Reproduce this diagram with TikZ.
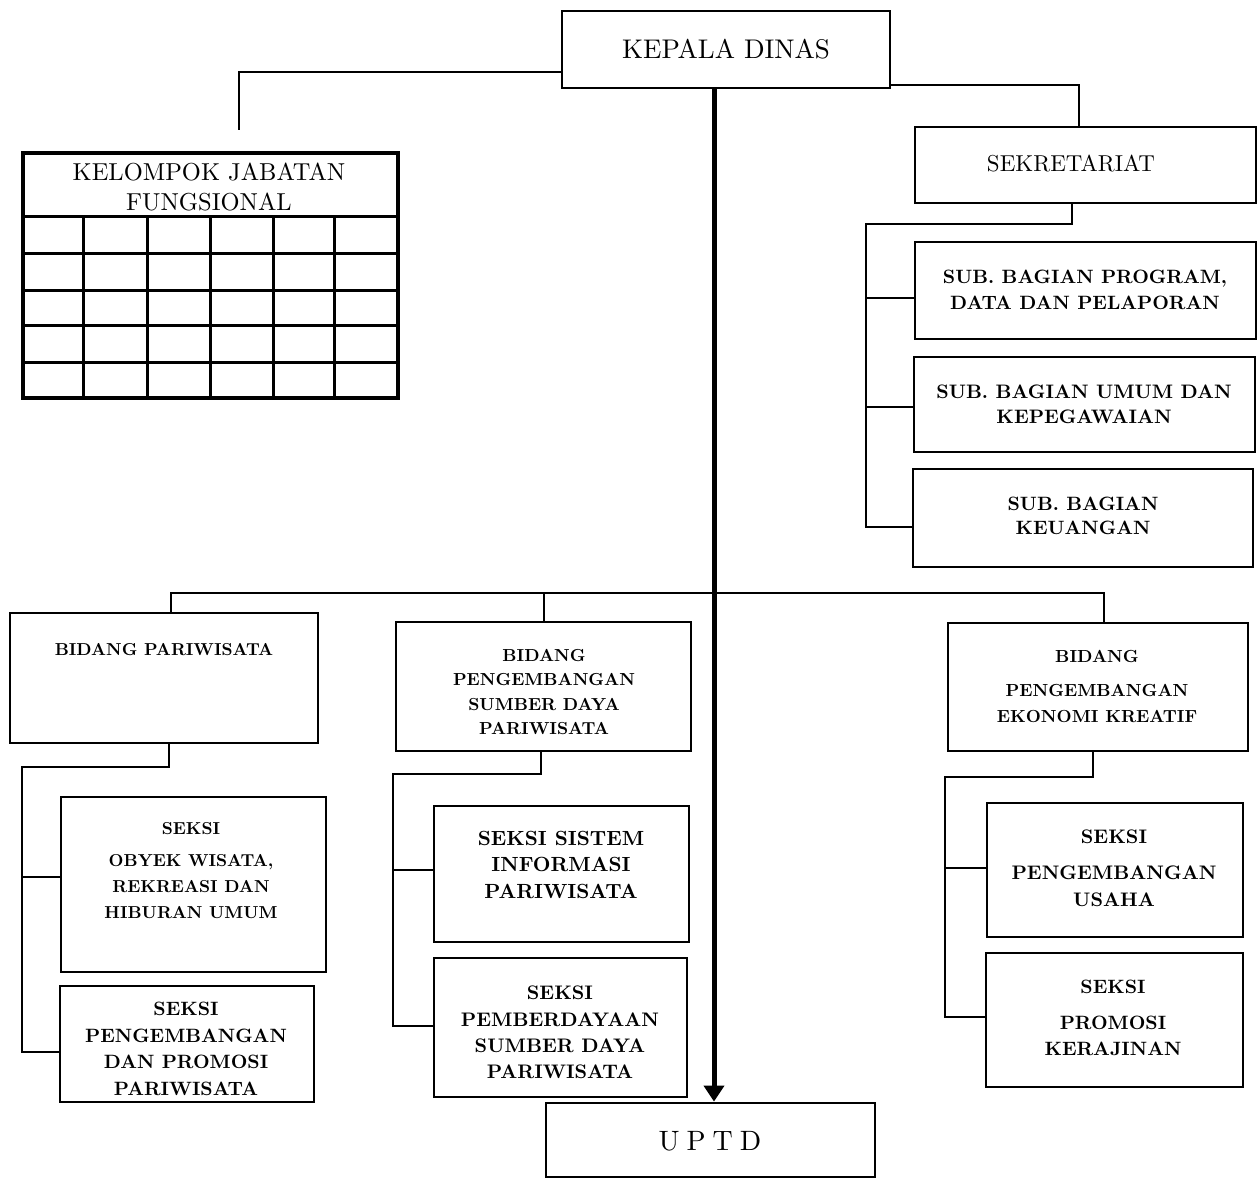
\documentclass[tikz,border=0pt]{standalone}
\usepackage{fontspec}
\setmainfont{lmroman10-regular}[Extension=.otf, BoldFont=lmroman10-bold]
\usetikzlibrary{arrows.meta,fit}
\begin{document}
\begin{tikzpicture}[x=1pt,y=-1pt,
  box/.style={draw, line width=2.9pt, inner sep=0pt},
  conn/.style={line width=2pt},
  bus/.style={line width=2.6pt},
  gridline/.style={line width=3pt},
  spine/.style={line width=5pt, -{Triangle[width=20pt,length=16pt]}},
  txt/.style={inner sep=0pt, align=center},
  reg/.style={txt, font=\fontsize{#1}{30}\selectfont},
  bld/.style n args={2}{txt, font=\fontsize{#1}{#2}\selectfont\bfseries}
]
\fill[white] (0,0) rectangle (1259,1179);
\useasboundingbox (0,0) rectangle (1259,1179);

% ---------- boxes ----------
\node[box, fit={(562,11) (890,88)}] (kd) {};
\node[box, line width=3.2pt, fit={(23,153) (398,398)}] (kfj) {};
\node[box, fit={(915,127) (1256,203)}] (sek) {};
\node[box, fit={(915,242) (1256,339)}] (sb1) {};
\node[box, fit={(914,357) (1255,452)}] (sb2) {};
\node[box, fit={(913,469) (1253,567)}] (sb3) {};
\node[box, fit={(10,613) (318,743)}] (bp) {};
\node[box, fit={(396,622) (691,751)}] (psdp) {};
\node[box, fit={(948,623) (1248,751)}] (pek) {};
\node[box, fit={(61,797) (326,972)}] (s1) {};
\node[box, fit={(60,986) (314,1102)}] (s2) {};
\node[box, fit={(434,806) (689,942)}] (s3) {};
\node[box, fit={(434,958) (687,1097)}] (s4) {};
\node[box, fit={(987,803) (1243,937)}] (s5) {};
\node[box, fit={(986,953) (1243,1087)}] (s6) {};
\node[box, fit={(546,1103) (875,1177)}] (uptd) {};

% ---------- table grid of Kelompok Jabatan Fungsional ----------
\foreach \yy in {216,253,290,325,362} \draw[gridline] (23,\yy) -- (398,\yy);
\foreach \xx in {83,147,210,273,334} \draw[gridline] (\xx,216) -- (\xx,398);

% ---------- texts ----------
\node[reg=27] (kdt) at (726,49) {KEPALA DINAS};
\node[reg=23] (sekt) at (1071,164) {SEKRETARIAT};
\node[txt, font=\fontsize{24.5}{30}\selectfont] (kfjt) at (209,187) {KELOMPOK JABATAN\\FUNGSIONAL};
\node[bld={19.3}{26}] (sb1t) at (1085,290) {SUB. BAGIAN PROGRAM,\\DATA DAN PELAPORAN};
\node[bld={19.5}{25}] (sb2t) at (1084,404) {SUB. BAGIAN UMUM DAN\\KEPEGAWAIAN};
\node[bld={19.3}{24}] (sb3t) at (1083,516) {SUB. BAGIAN\\KEUANGAN};
\node[bld={17.3}{20}] (bpt) at (164,650) {BIDANG PARIWISATA};
\node[bld={17.4}{24.3}] (psdpt) at (544,692) {BIDANG\\PENGEMBANGAN\\SUMBER DAYA\\PARIWISATA};
\node[bld={17.5}{26}] (pekt) at (1097,686) {BIDANG\\[8pt]PENGEMBANGAN\\EKONOMI KREATIF};
\node[bld={17.3}{26}] (s1t) at (191,871) {SEKSI\\[6pt]OBYEK WISATA,\\REKREASI DAN\\HIBURAN UMUM};
\node[bld={19.3}{26.7}] (s2t) at (186,1049) {SEKSI\\PENGEMBANGAN\\DAN PROMOSI\\PARIWISATA};
\node[bld={20.5}{26.5}] (s3t) at (561,864.5) {SEKSI SISTEM\\INFORMASI\\PARIWISATA};
\node[bld={19.6}{26.3}] (s4t) at (560,1032.5) {SEKSI\\PEMBERDAYAAN\\SUMBER DAYA\\PARIWISATA};
\node[bld={19.6}{27}] (s5t) at (1114,868.5) {SEKSI\\[9pt]PENGEMBANGAN\\USAHA};
\node[bld={19.3}{26}] (s6t) at (1113,1018) {SEKSI\\[10pt]PROMOSI\\KERAJINAN};
\node[txt, font=\fontsize{28}{30}\selectfont] (uptdt) at (710,1141) {U\hspace{7pt}P\hspace{7pt}T\hspace{7pt}D};

% ---------- connectors from Kepala Dinas ----------
\coordinate (kdL) at (239,72);
\coordinate (kdLe) at (239,130);
\draw[conn] (kd.west |- kdL) -- (kdL) -- (kdLe);
\coordinate (kdR) at (1079,85);
\draw[conn] (kd.east |- kdR) -- (kdR) -- (kdR |- sek.north);

% ---------- Sekretariat branches ----------
\coordinate (sekA) at (1072,224);
\coordinate (sekB) at (866,224);
\coordinate (sekC) at (866,527);
\coordinate (sbj1) at (866,298);
\coordinate (sbj2) at (866,407);
\draw[conn] (sekA |- sek.south) -- (sekA) -- (sekB) -- (sekC) -- (sekC -| sb3.west);
\draw[conn] (sbj1) -- (sbj1 -| sb1.west);
\draw[conn] (sbj2) -- (sbj2 -| sb2.west);

% ---------- bus to the Bidang ----------
\coordinate (busL) at (171,593);
\coordinate (busR) at (1104,593);
\draw[bus] (busL |- bp.north) -- (busL) -- (busR) -- (busR |- pek.north);
\draw[conn] (psdp.north |- busL) -- (psdp.north);

% ---------- Bidang Pariwisata ----------
\coordinate (bpA) at (169,767);
\coordinate (bpB) at (22,767);
\coordinate (bpC) at (22,1052);
\coordinate (bpj) at (22,877);
\draw[conn] (bpA |- bp.south) -- (bpA) -- (bpB) -- (bpC) -- (bpC -| s2.west);
\draw[conn] (bpj) -- (bpj -| s1.west);

% ---------- Bidang PSDP ----------
\coordinate (psA) at (541,774);
\coordinate (psB) at (393,774);
\coordinate (psC) at (393,1026);
\coordinate (psj) at (393,870);
\draw[conn] (psA |- psdp.south) -- (psA) -- (psB) -- (psC) -- (psC -| s4.west);
\draw[conn] (psj) -- (psj -| s3.west);

% ---------- Bidang PEK ----------
\coordinate (peA) at (1093,777);
\coordinate (peB) at (945,777);
\coordinate (peC) at (945,1017);
\coordinate (pej) at (945,868);
\draw[conn] (peA |- pek.south) -- (peA) -- (peB) -- (peC) -- (peC -| s6.west);
\draw[conn] (pej) -- (pej -| s5.west);

% ---------- main spine to UPTD ----------
\coordinate (spx) at (714,0);
\draw[spine] (kd.south -| spx) -- (uptd.north -| spx);
\end{tikzpicture}
\end{document}
